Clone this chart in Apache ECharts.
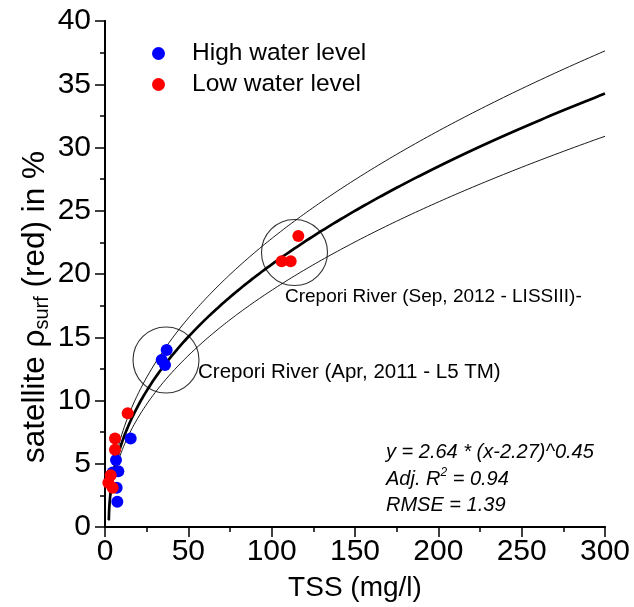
<!DOCTYPE html>
<html>
<head>
<meta charset="utf-8">
<script src="https://cdn.jsdelivr.net/npm/echarts@6/dist/echarts.min.js"></script>
<style>
  html, body { margin: 0; padding: 0; background: #fff; }
  #chart { width: 634px; height: 607px; }
</style>
</head>
<body>
<div id="chart"></div>
<script>
// Field samples: TSS (mg/l) against satellite surface reflectance in the red band (%)
const seriesNames = ['High water level', 'Low water level'];
const highWater = [
  [37.0, 14.0], [34.0, 13.2], [36.0, 12.8], [15.4, 7.0], [6.6, 5.3],
  [8.0, 4.4], [4.6, 4.3], [7.0, 3.1], [7.4, 2.0]
];
const lowWater = [
  [13.6, 9.0], [6.0, 7.0], [6.0, 6.1], [3.4, 4.1], [4.6, 3.1], [2.0, 3.5],
  [106.0, 21.0], [111.4, 21.0], [116.0, 23.0]
];
// Power-law fit y = a * (x - b)^c, and the multiplier a of the upper / lower band
const fitCoef = [2.64, 2.27, 0.45];
const bandCoef = [2.90, 2.38];
// Centres of the two highlighted river scenes
const ringCenters = [[36.6, 13.2], [113.7, 21.7]];
const xRange = [0, 300, 50];
const yRange = [0, 40, 5];
const noteTexts = ['Crepori River (Apr, 2011 - L5 TM)', 'Crepori River (Sep, 2012 - LISSIII)-'];
const statLines = ['y = 2.64 * (x-2.27)^0.45', '0.94', '1.39'];

const FONT = '"Liberation Sans", Arial, sans-serif';

function powerCurve(a) {
  const b = fitCoef[1], c = fitCoef[2];
  const pts = [];
  const x0 = b + 0.03, n = 240;
  for (let i = 0; i <= n; i++) {
    const x = x0 + (xRange[1] - x0) * Math.pow(i / n, 2.5);
    pts.push([x, a * Math.pow(x - b, c)]);
  }
  return pts;
}

const axisLine = { show: true, lineStyle: { color: '#000', width: 1.8 } };
const tickStyle = { color: '#000', width: 1.5 };

const chart = echarts.init(document.getElementById('chart'), null, { renderer: 'canvas' });
chart.setOption({
  animation: false,
  backgroundColor: '#fff',
  grid: { left: 105, right: 29, top: 21, bottom: 77 },
  legend: {
    orient: 'vertical',
    left: 147,
    top: 36,
    itemWidth: 13,
    itemHeight: 13,
    itemGap: 6,
    data: seriesNames.map(n => ({ name: n, icon: 'circle' })),
    textStyle: { fontFamily: FONT, fontSize: 24.5, color: '#000', padding: [0, 0, 0, 22] }
  },
  xAxis: [{
    type: 'value', position: 'bottom',
    min: xRange[0], max: xRange[1], interval: xRange[2],
    axisLine: axisLine,
    axisTick: { show: true, inside: false, length: 10, lineStyle: tickStyle },
    minorTick: { show: true, splitNumber: 2, length: 5, lineStyle: tickStyle },
    splitLine: { show: false },
    axisLabel: { color: '#000', fontFamily: FONT, fontSize: 30, margin: 10 },
    name: 'TSS (mg/l)', nameLocation: 'middle', nameGap: 47,
    nameTextStyle: { color: '#000', fontFamily: FONT, fontSize: 28 }
  }, {
    type: 'value', position: 'top',
    min: xRange[0], max: xRange[1], interval: xRange[2],
    axisLine: axisLine,
    axisTick: { show: true, inside: true, length: 8, lineStyle: tickStyle },
    minorTick: { show: true, splitNumber: 2, length: 4, lineStyle: tickStyle },
    splitLine: { show: false },
    axisLabel: { show: false }
  }],
  yAxis: [{
    type: 'value', position: 'left',
    min: yRange[0], max: yRange[1], interval: yRange[2],
    axisLine: axisLine,
    axisTick: { show: true, inside: false, length: 10, lineStyle: tickStyle },
    minorTick: { show: true, splitNumber: 2, length: 5, lineStyle: tickStyle },
    splitLine: { show: false },
    axisLabel: { color: '#000', fontFamily: FONT, fontSize: 30, margin: 14 }
  }, {
    type: 'value', position: 'right',
    min: yRange[0], max: yRange[1], interval: yRange[2],
    axisLine: axisLine,
    axisTick: { show: true, inside: true, length: 9, lineStyle: tickStyle },
    minorTick: { show: true, splitNumber: 2, length: 4, lineStyle: tickStyle },
    splitLine: { show: false },
    axisLabel: { show: false }
  }],
  graphic: [{
    type: 'text', x: 35, y: 307, rotation: Math.PI / 2,
    style: {
      text: '{a|satellite ρ}{s|surf}{a| (red) in %}',
      align: 'center', verticalAlign: 'middle', fill: '#000',
      rich: {
        a: { fontFamily: FONT, fontSize: 31.5, lineHeight: 34, verticalAlign: 'middle', fill: '#000' },
        s: { fontFamily: FONT, fontSize: 20, lineHeight: 20, verticalAlign: 'bottom', fill: '#000' }
      }
    }
  }, {
    type: 'text', x: 198, y: 372,
    style: { text: noteTexts[0], fontFamily: FONT, fontSize: 20.5, fill: '#000', verticalAlign: 'middle' }
  }, {
    type: 'text', x: 285, y: 297,
    style: { text: noteTexts[1], fontFamily: FONT, fontSize: 19, fill: '#000', verticalAlign: 'middle' }
  }, {
    type: 'text', x: 386, y: 452,
    style: { text: statLines[0], fontFamily: FONT, fontSize: 20, fontStyle: 'italic', fill: '#000', verticalAlign: 'middle' }
  }, {
    type: 'text', x: 386, y: 479,
    style: {
      text: '{i|Adj. R}{p|2}{i| = ' + statLines[1] + '}',
      verticalAlign: 'middle',
      rich: {
        i: { fontFamily: FONT, fontSize: 20, fontStyle: 'italic', lineHeight: 24, verticalAlign: 'middle', fill: '#000' },
        p: { fontFamily: FONT, fontSize: 12, fontStyle: 'italic', lineHeight: 12, verticalAlign: 'top', fill: '#000' }
      }
    }
  }, {
    type: 'text', x: 386, y: 505,
    style: { text: 'RMSE = ' + statLines[2], fontFamily: FONT, fontSize: 20, fontStyle: 'italic', fill: '#000', verticalAlign: 'middle' }
  }],
  series: [{
    name: 'upper band', type: 'line', data: powerCurve(bandCoef[0]),
    showSymbol: false, silent: true, clip: true,
    lineStyle: { color: '#000', width: 0.9 }, z: 2
  }, {
    name: 'lower band', type: 'line', data: powerCurve(bandCoef[1]),
    showSymbol: false, silent: true, clip: true,
    lineStyle: { color: '#000', width: 0.9 }, z: 2
  }, {
    name: 'fit', type: 'line', data: powerCurve(fitCoef[0]),
    showSymbol: false, silent: true, clip: true,
    lineStyle: { color: '#000', width: 2.7 }, z: 3
  }, {
    name: 'rings', type: 'scatter', data: ringCenters,
    symbol: 'circle', symbolSize: 66, silent: true,
    itemStyle: { color: 'rgba(0,0,0,0)', borderColor: '#000', borderWidth: 1.1 }, z: 2
  }, {
    name: seriesNames[0], type: 'scatter', data: highWater,
    symbol: 'circle', symbolSize: 12,
    itemStyle: { color: '#0000ff', opacity: 1 }, z: 4
  }, {
    name: seriesNames[1], type: 'scatter', data: lowWater,
    symbol: 'circle', symbolSize: 12,
    itemStyle: { color: '#ff0000', opacity: 1 }, z: 5
  }]
});
</script>
</body>
</html>
